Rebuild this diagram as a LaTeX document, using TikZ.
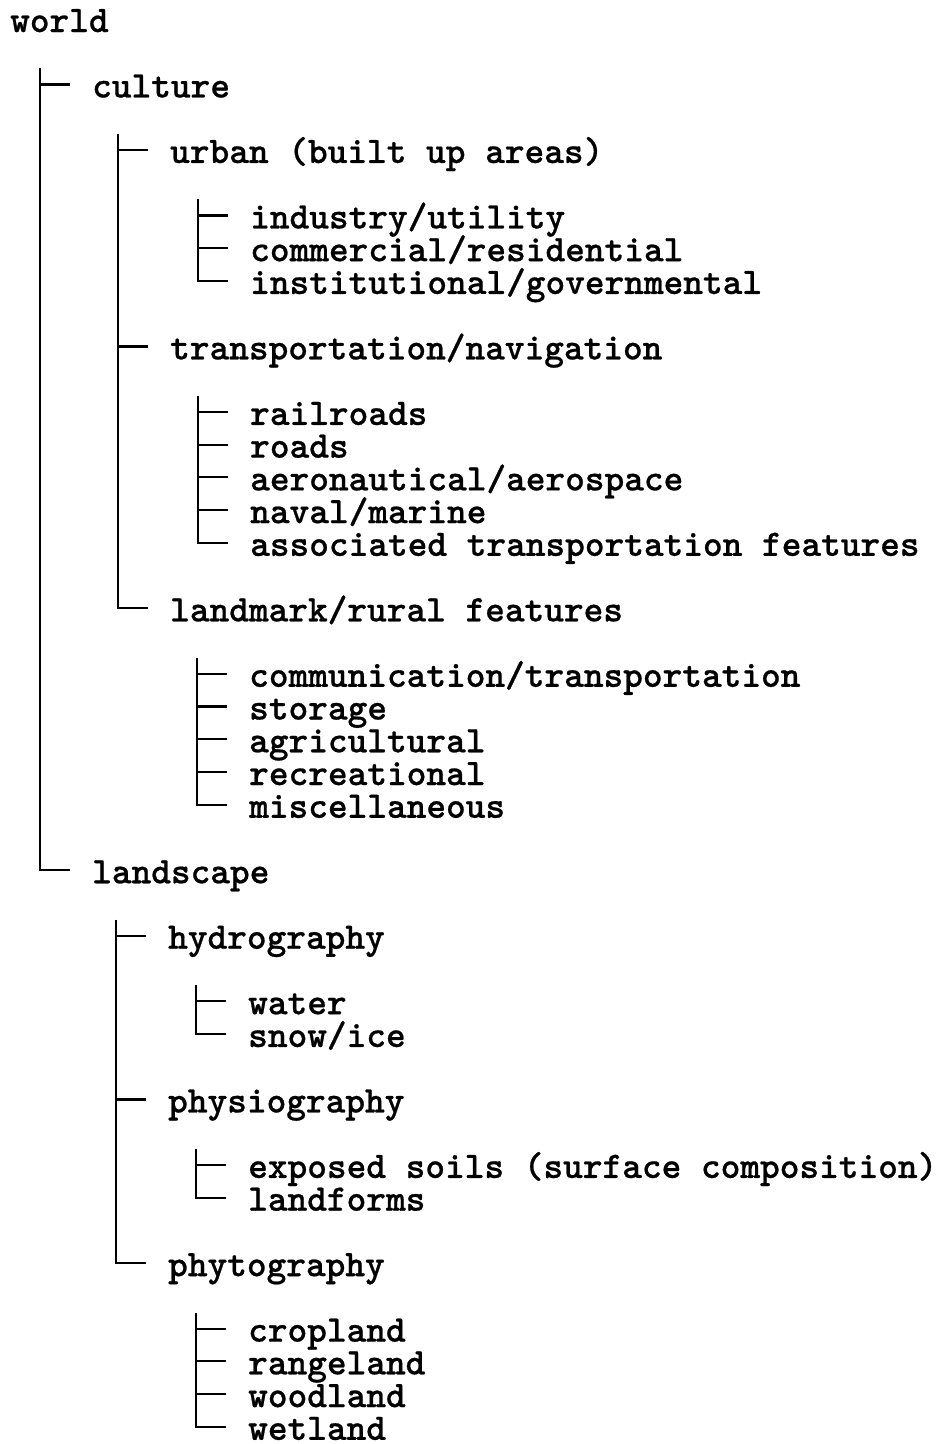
\documentclass[tikz,border=0pt]{standalone}
\usepackage{fontspec}
\newfontfamily\treefont{lmmonolt10-bold.otf}[FakeBold=0.6]
\begin{document}
\begin{tikzpicture}[x=1pt,y=-1pt,
  txt/.style={anchor=base west,inner sep=0pt,text height=24pt,text depth=3pt,font=\treefont\fontsize{37.5}{37.5}\selectfont},
  lnk/.style={line width=2.2pt,line cap=butt,line join=miter}]
\useasboundingbox (0,0) rectangle (940,1444);
\def\rs{32.74}
\node[txt] (w)  at (10,{32+0*\rs}) {world};
\node[txt] (c)  at (92,{32+2*\rs}) {culture};
\node[txt] (u)  at (170,{32+4*\rs}) {urban (built up areas)};
\node[txt] (u1) at (250,{32+6*\rs}) {industry/utility};
\node[txt] (u2) at (250,{32+7*\rs}) {commercial/residential};
\node[txt] (u3) at (250,{32+8*\rs}) {institutional/governmental};
\node[txt] (t)  at (170,{32+10*\rs}) {transportation/navigation};
\node[txt] (t1) at (250,{32+12*\rs}) {railroads};
\node[txt] (t2) at (250,{32+13*\rs}) {roads};
\node[txt] (t3) at (250,{32+14*\rs}) {aeronautical/aerospace};
\node[txt] (t4) at (250,{32+15*\rs}) {naval/marine};
\node[txt] (t5) at (250,{32+16*\rs}) {associated transportation features};
\node[txt] (l)  at (170,{32+18*\rs}) {landmark/rural features};
\node[txt] (l1) at (249,{32+20*\rs}) {communication/transportation};
\node[txt] (l2) at (249,{32+21*\rs}) {storage};
\node[txt] (l3) at (249,{32+22*\rs}) {agricultural};
\node[txt] (l4) at (249,{32+23*\rs}) {recreational};
\node[txt] (l5) at (249,{32+24*\rs}) {miscellaneous};
\node[txt] (ls) at (92,{32+26*\rs}) {landscape};
\node[txt] (h)  at (168,{32+28*\rs}) {hydrography};
\node[txt] (h1) at (248,{32+30*\rs}) {water};
\node[txt] (h2) at (248,{32+31*\rs}) {snow/ice};
\node[txt] (p)  at (168,{32+33*\rs}) {physiography};
\node[txt] (p1) at (248,{32+35*\rs}) {exposed soils (surface composition)};
\node[txt] (p2) at (248,{32+36*\rs}) {landforms};
\node[txt] (f)  at (168,{32+38*\rs}) {phytography};
\node[txt] (f1) at (248,{32+40*\rs}) {cropland};
\node[txt] (f2) at (248,{32+41*\rs}) {rangeland};
\node[txt] (f3) at (248,{32+42*\rs}) {woodland};
\node[txt] (f4) at (248,{32+43*\rs}) {wetland};
\foreach \n in {c,u,t,u1,u2,t1,t2,t3,t4,l1,l2,l3,l4,h,p,h1,p1,f1,f2,f3}
  \draw[lnk] ([shift={(-52pt,13pt)}]\n.base west) -- ([shift={(-22pt,13pt)}]\n.base west);
\foreach \a/\b in {c/ls,u/l,u1/u3,t1/t5,l1/l5,h/f,h1/h2,p1/p2,f1/f4}
  \draw[lnk] ([shift={(-52pt,29pt)}]\a.base west) -- ([shift={(-52pt,13pt)}]\b.base west) -- ([shift={(-22pt,13pt)}]\b.base west);
\end{tikzpicture}
\end{document}
